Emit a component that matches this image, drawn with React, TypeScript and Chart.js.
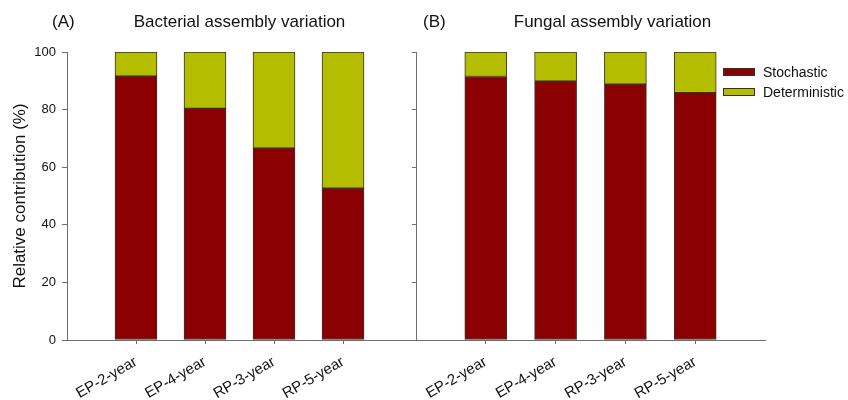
import React, { useEffect, useRef } from 'react';
import { Chart, registerables } from 'chart.js';

Chart.register(...registerables);

const categories = ['EP-2-year', 'EP-4-year', 'RP-3-year', 'RP-5-year'];
const bacterialStochastic = [91.6, 80.4, 66.6, 52.7];
const bacterialDeterministic = [8.4, 19.6, 33.4, 47.3];
const fungalStochastic = [91.5, 89.9, 88.8, 85.9];
const fungalDeterministic = [8.5, 10.1, 11.2, 14.1];
const yTicks = [0, 20, 40, 60, 80, 100];
const seriesNames = ['Stochastic', 'Deterministic'];
const seriesColors = ['#8b0000', '#b4bd00'];

const FONT = '"Liberation Sans", Arial, sans-serif';
const AXIS_COLOR = '#6e6e6e';

const padLabels = ['', ...categories, ''];
const padData = (arr: number[]) => [null, ...arr, null];

function panelTextPlugin(label: string, title: string, labelDx: number, titleDx: number) {
  return {
    id: 'panelText',
    afterDraw(chart: any) {
      const { ctx, chartArea } = chart;
      ctx.save();
      ctx.fillStyle = '#111';
      ctx.font = `17px ${FONT}`;
      ctx.textBaseline = 'middle';
      ctx.textAlign = 'left';
      ctx.fillText(label, chartArea.left + labelDx, chartArea.top - 30);
      ctx.textAlign = 'center';
      ctx.fillText(title, (chartArea.left + chartArea.right) / 2 + titleDx, chartArea.top - 30);
      ctx.restore();
    },
  };
}

const insideLegendPlugin = {
  id: 'insideLegend',
  afterDraw(chart: any) {
    const { ctx, chartArea } = chart;
    ctx.save();
    ctx.font = `14px ${FONT}`;
    ctx.textBaseline = 'middle';
    ctx.textAlign = 'left';
    chart.data.datasets.forEach((ds: any, i: number) => {
      const x = chartArea.right - 42;
      const y = chartArea.top + 20 + i * 20;
      ctx.fillStyle = ds.backgroundColor;
      ctx.fillRect(x, y - 3.5, 32, 7);
      ctx.strokeStyle = '#333';
      ctx.lineWidth = 1;
      ctx.strokeRect(x + 0.5, y - 3.5, 31, 7);
      ctx.fillStyle = '#111';
      ctx.fillText(ds.label, x + 40, y + 1);
    });
    ctx.restore();
  },
};

function makeConfig(stoch: number[], det: number[], showYLabels: boolean, padRight: number, plugins: any[]) {
  return {
    type: 'bar' as const,
    data: {
      labels: padLabels,
      datasets: [
        {
          label: seriesNames[0],
          data: padData(stoch),
          backgroundColor: seriesColors[0],
          borderColor: '#333',
          borderWidth: 1,
          borderSkipped: false,
          barThickness: 42,
        },
        {
          label: seriesNames[1],
          data: padData(det),
          backgroundColor: seriesColors[1],
          borderColor: '#333',
          borderWidth: 1,
          borderSkipped: false,
          barThickness: 42,
        },
      ],
    },
    options: {
      responsive: false,
      animation: false,
      layout: { padding: { left: 0, top: 52, right: padRight, bottom: 0 } },
      plugins: {
        legend: { display: false },
        tooltip: { enabled: false },
        title: { display: false },
      },
      scales: {
        x: {
          stacked: true,
          offset: false,
          grid: {
            offset: false,
            drawOnChartArea: false,
            drawTicks: true,
            tickLength: 4,
            tickColor: (c: any) =>
              c.index === 0 || c.index === padLabels.length - 1 ? 'rgba(0,0,0,0)' : AXIS_COLOR,
          },
          border: { color: AXIS_COLOR, width: 1 },
          ticks: {
            autoSkip: false,
            minRotation: 30,
            maxRotation: 30,
            color: '#111',
            padding: 9,
            font: { family: FONT, size: 15 },
          },
          afterFit: (s: any) => {
            s.height = 60;
          },
        },
        y: {
          stacked: true,
          min: 0,
          max: 100,
          afterBuildTicks: (s: any) => {
            s.ticks = yTicks.map((v) => ({ value: v }));
          },
          grid: {
            drawOnChartArea: false,
            drawTicks: true,
            tickLength: showYLabels ? 5 : 4,
            tickColor: AXIS_COLOR,
          },
          border: { color: AXIS_COLOR, width: 1 },
          ticks: {
            display: showYLabels,
            color: '#111',
            padding: 6,
            font: { family: FONT, size: 13 },
          },
          title: {
            display: showYLabels,
            text: 'Relative contribution (%)',
            color: '#111',
            font: { family: FONT, size: 17 },
            padding: { top: 10, bottom: 0 },
          },
          afterFit: (s: any) => {
            s.width = showYLabels ? 67 : 10;
          },
        },
      },
    },
    plugins,
  };
}

function Panel(props: { left: number; width: number; config: any }) {
  const ref = useRef<HTMLCanvasElement>(null);
  useEffect(() => {
    if (!ref.current) return;
    const chart = new Chart(ref.current, props.config);
    return () => chart.destroy();
  }, []);
  return (
    <div style={{ position: 'absolute', left: props.left, top: 0, width: props.width, height: 400 }}>
      <canvas ref={ref} width={props.width} height={400} style={{ display: 'block' }} />
    </div>
  );
}

export default function App() {
  const leftConfig = makeConfig(bacterialStochastic, bacterialDeterministic, true, 15, [
    panelTextPlugin('(A)', 'Bacterial assembly variation', -15, 0),
  ]);
  const rightConfig = makeConfig(fungalStochastic, fungalDeterministic, false, 83, [
    panelTextPlugin('(B)', 'Fungal assembly variation', 7, 22),
    insideLegendPlugin,
  ]);
  return (
    <div style={{ position: 'absolute', left: 0, top: 0, width: 848, height: 400, background: '#fff' }}>
      <Panel left={0} width={430} config={leftConfig} />
      <Panel left={406} width={442} config={rightConfig} />
    </div>
  );
}
